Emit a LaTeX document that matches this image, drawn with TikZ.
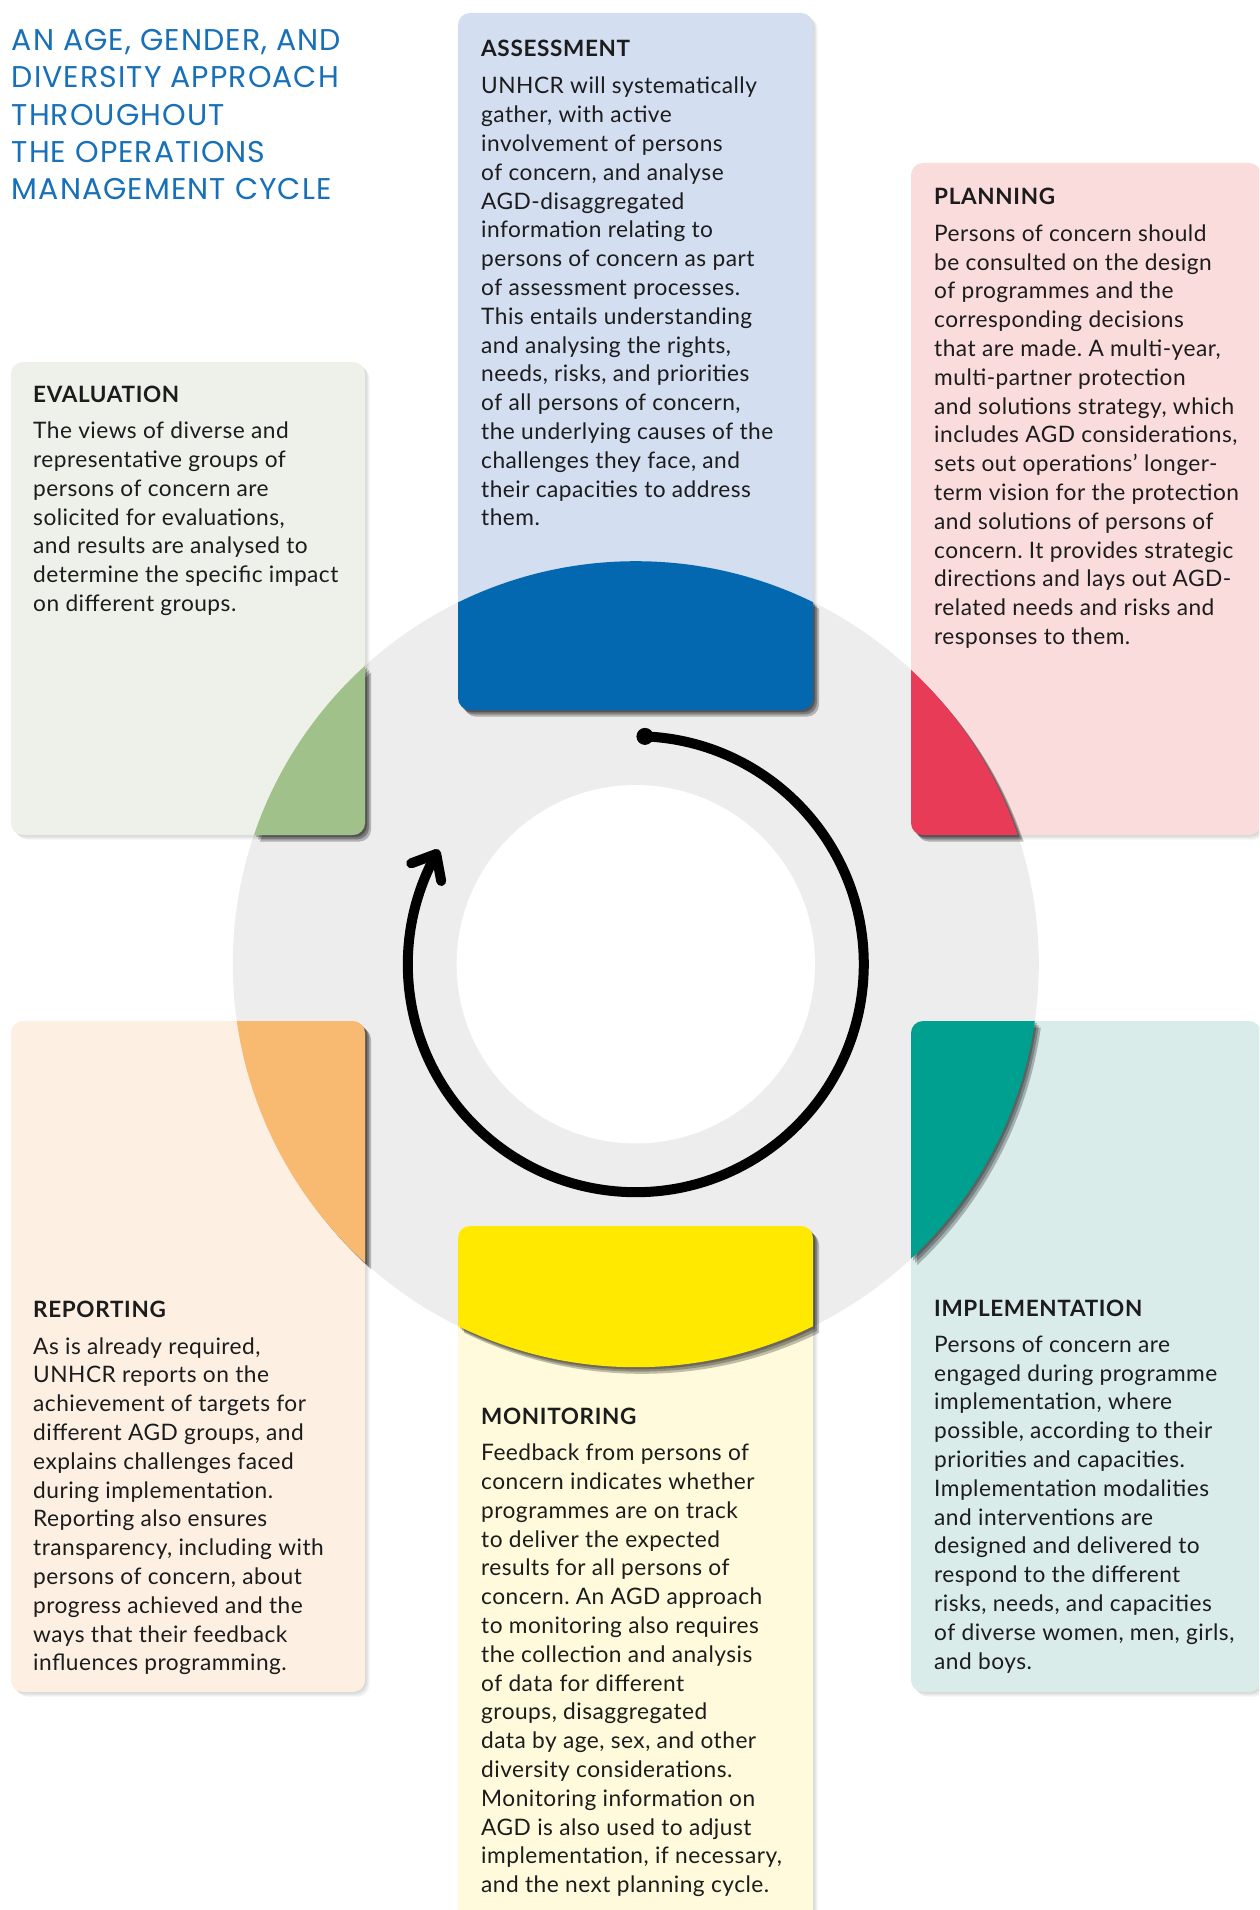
\documentclass[tikz,border=0pt]{standalone}
\usepackage{fontspec}
\setmainfont{Lato}
\newfontfamily\titlefont{Poppins}
\frenchspacing
\definecolor{ink}{HTML}{1C1C1C}
\definecolor{titleblue}{HTML}{1770B8}
\definecolor{ringgrey}{HTML}{EDEDED}
\definecolor{asmL}{HTML}{D3DEF1}\definecolor{asmS}{HTML}{0468B1}
\definecolor{plnL}{HTML}{FADCDC}\definecolor{plnS}{HTML}{E83B58}
\definecolor{evaL}{HTML}{EDF1E9}\definecolor{evaS}{HTML}{A0C28A}
\definecolor{repL}{HTML}{FDF0E3}\definecolor{repS}{HTML}{F7BA70}
\definecolor{impL}{HTML}{DAECEA}\definecolor{impS}{HTML}{00A090}
\definecolor{monL}{HTML}{FFFADB}\definecolor{monS}{HTML}{FFE900}
\newcommand{\cx}{635.8}
\newcommand{\cy}{964.2}
\newcommand{\bodybox}[1]{\parbox[t]{420pt}{\fontsize{22.7}{28.8}\selectfont\addfontfeature{LetterSpace=2.1}\frenchspacing#1}}
% #1 x1 #2 y1 #3 x2 #4 y2 #5 light colour #6 strong colour
\newcommand{\stagebox}[6]{%
  \foreach \s in {1.5,3,4.5}{\fill[black,opacity=0.05,rounded corners=12] ({#1+\s},{#2+\s}) rectangle ({#3+\s},{#4+\s});}
  \fill[#5,rounded corners=12] (#1,#2) rectangle (#3,#4);
  \foreach \s in {2,4,6}{%
    \begin{scope}[shift={(\s,{\s*1.1})}]
      \clip (\cx,\cy) circle[radius=403];
      \fill[black,opacity=0.25,rounded corners=12] (#1,#2) rectangle (#3,#4);
    \end{scope}}
  \begin{scope}
    \clip (\cx,\cy) circle[radius=403];
    \fill[#6,rounded corners=12] (#1,#2) rectangle (#3,#4);
  \end{scope}}
\tikzset{
  head/.style={anchor=base west, inner sep=0pt, text=ink, font=\fontsize{22.5}{27}\selectfont\bfseries\addfontfeature{LetterSpace=2.9}},
  body/.style={anchor=base west, inner sep=0pt, text=ink},
  cyclearrow/.style={line width=10pt, line cap=round, line join=round, draw=black}
}
\begin{document}
\begin{tikzpicture}[x=1pt,y=-1pt]
\useasboundingbox (0,0) rectangle (1259,1910);
\clip (0,0) rectangle (1259,1910);
\fill[white] (0,0) rectangle (1259,1910);
% ring
\coordinate (C) at (\cx,\cy);
\fill[ringgrey] (C) circle[radius=403];
\fill[white] (C) circle[radius=179.2];
% boxes
\stagebox{458}{13}{813}{710}{asmL}{asmS}
\stagebox{911}{163}{1261}{835}{plnL}{plnS}
\stagebox{11}{362}{365}{835}{evaL}{evaS}
\stagebox{11}{1021}{365}{1692}{repL}{repS}
\stagebox{911}{1021}{1261}{1692}{impL}{impS}
\stagebox{458}{1226}{813}{1960}{monL}{monS}
% title
\node[anchor=base west, inner sep=0pt, text=titleblue] (title) at (11.7,50.7)
 {\parbox[t]{500pt}{\titlefont\fontsize{30}{37.3}\selectfont\addfontfeature{LetterSpace=3.5}%
 AN AGE, GENDER, AND\\DIVERSITY APPROACH\\THROUGHOUT\\THE OPERATIONS\\MANAGEMENT CYCLE}};
% assessment
\node[head] (asmh) at (481,56.7) {ASSESSMENT};
\node[body] (asmb) at (481,94) {\bodybox{UNHCR will systematically\\gather, with active\\involvement of persons\\of concern, and analyse\\AGD-disaggregated\\information relating to\\persons of concern as part\\of assessment processes.\\This entails understanding\\and analysing the rights,\\needs, risks, and priorities\\of all persons of concern,\\the underlying causes of the\\challenges they face, and\\their capacities to address\\them.}};
% planning
\node[head] (plnh) at (934,205) {PLANNING};
\node[body] (plnb) at (934,241.3) {\bodybox{Persons of concern should\\be consulted on the design\\of programmes and the\\corresponding decisions\\that are made. A multi-year,\\multi-partner protection\\and solutions strategy, which\\includes AGD considerations,\\sets out operations’ longer-\\term vision for the protection\\and solutions of persons of\\concern. It provides strategic\\directions and lays out AGD-\\related needs and risks and\\responses to them.}};
% evaluation
\node[head] (evah) at (33,402.3) {EVALUATION};
\node[body] (evab) at (33,438.6) {\bodybox{The views of diverse and\\representative groups of\\persons of concern are\\solicited for evaluations,\\and results are analysed to\\determine the specific impact\\on different groups.}};
% reporting
\node[head] (reph) at (33,1317.5) {REPORTING};
\node[body] (repb) at (33,1354) {\bodybox{As is already required,\\UNHCR reports on the\\achievement of targets for\\different AGD groups, and\\explains challenges faced\\during implementation.\\Reporting also ensures\\transparency, including with\\persons of concern, about\\progress achieved and the\\ways that their feedback\\influences programming.}};
% implementation
\node[head] (imph) at (934,1316) {IMPLEMENTATION};
\node[body] (impb) at (934,1352.3) {\bodybox{Persons of concern are\\engaged during programme\\implementation, where\\possible, according to their\\priorities and capacities.\\Implementation modalities\\and interventions are\\designed and delivered to\\respond to the different\\risks, needs, and capacities\\of diverse women, men, girls,\\and boys.}};
% monitoring
\node[head] (monh) at (481,1424) {MONITORING};
\node[body] (monb) at (481,1460.7) {\bodybox{Feedback from persons of\\concern indicates whether\\programmes are on track\\to deliver the expected\\results for all persons of\\concern. An AGD approach\\to monitoring also requires\\the collection and analysis\\of data for different\\groups, disaggregated\\data by age, sex, and other\\diversity considerations.\\Monitoring information on\\AGD is also used to adjust\\implementation, if necessary,\\and the next planning cycle.}};
% cycle arrow
\draw[cyclearrow] (C) ++(-87.7:228) coordinate (arrS)
  arc[start angle=-87.7, end angle=208.9, radius=228] coordinate (arrE);
\fill (arrS) circle[radius=8.5];
\draw[cyclearrow] ([shift={(-25,9.3)}]arrE) -- (arrE) -- ([shift={(5,27)}]arrE);
\end{tikzpicture}
\end{document}
